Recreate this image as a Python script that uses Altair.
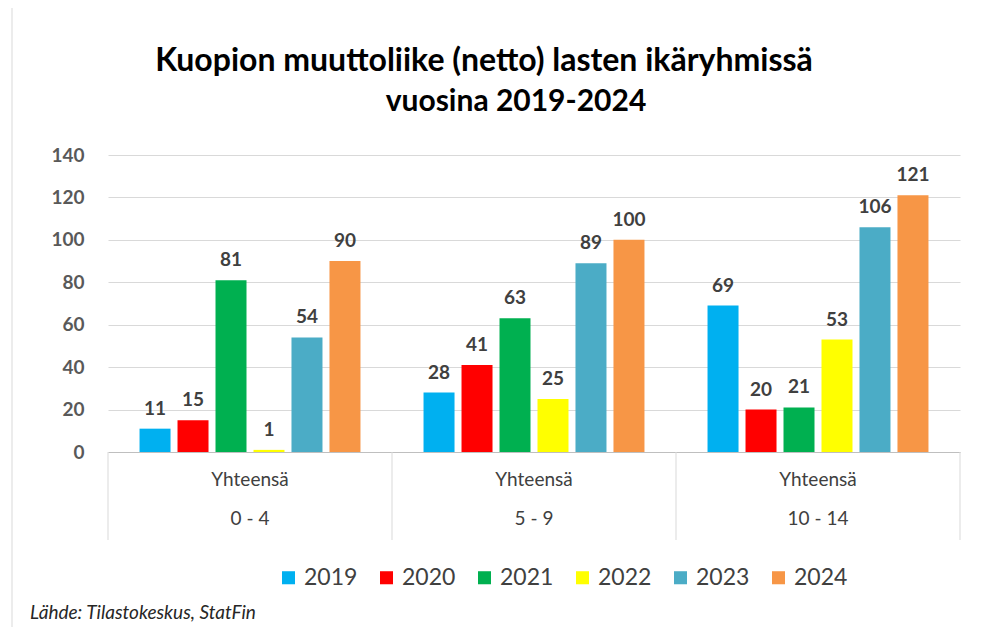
import altair as alt
import pandas as pd

groups = ["0 - 4", "5 - 9", "10 - 14"]
years = ["2019", "2020", "2021", "2022", "2023", "2024"]
colors = ["#00B0F0", "#FF0000", "#00B050", "#FFFF00", "#4BACC6", "#F79646"]

v2019 = [11, 28, 69]
v2020 = [15, 41, 20]
v2021 = [81, 63, 21]
v2022 = [1, 25, 53]
v2023 = [54, 89, 106]
v2024 = [90, 100, 121]

title_line1 = "Kuopion muuttoliike (netto) lasten ikäryhmissä"
title_line2 = "vuosina 2019-2024"
sub_label = "Yhteensä"
source = "Lähde: Tilastokeskus, StatFin"

series = [v2019, v2020, v2021, v2022, v2023, v2024]
rows = []
for y, vals in zip(years, series):
    for g, v in zip(groups, vals):
        rows.append({"group": g, "year": y, "value": v})
df = pd.DataFrame(rows)
gdf = pd.DataFrame({"group": groups, "sub": [sub_label] * len(groups)})

FONT = "Lato"
W, H = 852, 297

x_enc = alt.X("group:N", sort=groups,
              scale=alt.Scale(paddingInner=0, paddingOuter=0),
              axis=alt.Axis(labels=False, ticks=False, title=None, grid=False,
                            domainColor="#bfbfbf", domainWidth=1))
xoff = alt.XOffset("year:N", sort=years,
                   scale=alt.Scale(paddingInner=0.184, paddingOuter=0.83))
y_enc = alt.Y("value:Q", scale=alt.Scale(domain=[0, 140]),
              axis=alt.Axis(values=list(range(0, 141, 20)), title=None, domain=False,
                            ticks=False, labelFont=FONT, labelFontWeight="bold",
                            labelFontSize=19, labelColor="#595959", labelPadding=24,
                            gridColor="#d9d9d9"))

bars = alt.Chart(df).mark_bar().encode(
    x=x_enc, xOffset=xoff, y=y_enc,
    color=alt.Color("year:N", sort=years,
                    scale=alt.Scale(domain=years, range=colors),
                    legend=alt.Legend(orient="none", legendX=169, legendY=411,
                                      direction="horizontal", title=None,
                                      symbolType="square", symbolSize=170,
                                      symbolStrokeWidth=0, labelFontSize=23,
                                      labelFont=FONT, labelColor="#404040",
                                      columnPadding=17, labelOffset=4)),
)

labels = alt.Chart(df).mark_text(font=FONT, fontWeight="bold", fontSize=19,
                                 color="#404040", baseline="alphabetic", dy=-14).encode(
    x=alt.X("group:N", sort=groups), xOffset=alt.XOffset("year:N", sort=years),
    y="value:Q", text="value:Q")

sep_left = alt.Chart(gdf).mark_rule(color="#d9d9d9", strokeWidth=1).encode(
    x=alt.X("group:N", sort=groups, bandPosition=0),
    y=alt.value(H), y2=alt.value(H + 88))
sep_right = alt.Chart(gdf.tail(1)).mark_rule(color="#d9d9d9", strokeWidth=1).encode(
    x=alt.X("group:N", sort=groups, bandPosition=1),
    y=alt.value(H), y2=alt.value(H + 88))

sub_text = alt.Chart(gdf).mark_text(font=FONT, fontSize=19, color="#404040",
                                    baseline="alphabetic").encode(
    x=alt.X("group:N", sort=groups), y=alt.value(H + 34), text="sub:N")
grp_text = alt.Chart(gdf).mark_text(font=FONT, fontSize=19, color="#404040",
                                    baseline="alphabetic").encode(
    x=alt.X("group:N", sort=groups), y=alt.value(H + 73), text="group:N")

t1 = alt.Chart(pd.DataFrame({"t": [title_line1]})).mark_text(
    font=FONT, fontWeight="bold", fontSize=32, color="#000000",
    align="center", baseline="alphabetic").encode(
    x=alt.value(376), y=alt.value(-84), text="t:N")
t2 = alt.Chart(pd.DataFrame({"t": [title_line2]})).mark_text(
    font=FONT, fontWeight="bold", fontSize=30, color="#000000",
    align="center", baseline="alphabetic").encode(
    x=alt.value(408), y=alt.value(-44), text="t:N")
src = alt.Chart(pd.DataFrame({"t": [source]})).mark_text(
    font=FONT, fontStyle="italic", fontSize=19, color="#262626",
    align="left", baseline="alphabetic").encode(
    x=alt.value(-78), y=alt.value(464), text="t:N")

border_top = alt.Chart(pd.DataFrame({"a": [0]})).mark_rule(color="#d9d9d9").encode(
    x=alt.value(-98), x2=alt.value(870), y=alt.value(-150))
border_left = alt.Chart(pd.DataFrame({"a": [0]})).mark_rule(color="#d9d9d9").encode(
    x=alt.value(-96), y=alt.value(-150), y2=alt.value(480))

chart = alt.layer(
    border_top, border_left, bars, labels, sep_left, sep_right,
    sub_text, grp_text, t1, t2, src
).properties(
    width=W, height=H,
    autosize=alt.AutoSizeParams(type="none"),
    padding={"left": 100, "top": 147, "right": 18, "bottom": 175},
    background="white",
).configure_view(stroke=None)

chart.save("out.html", embed_options={"renderer": "svg", "actions": False})
